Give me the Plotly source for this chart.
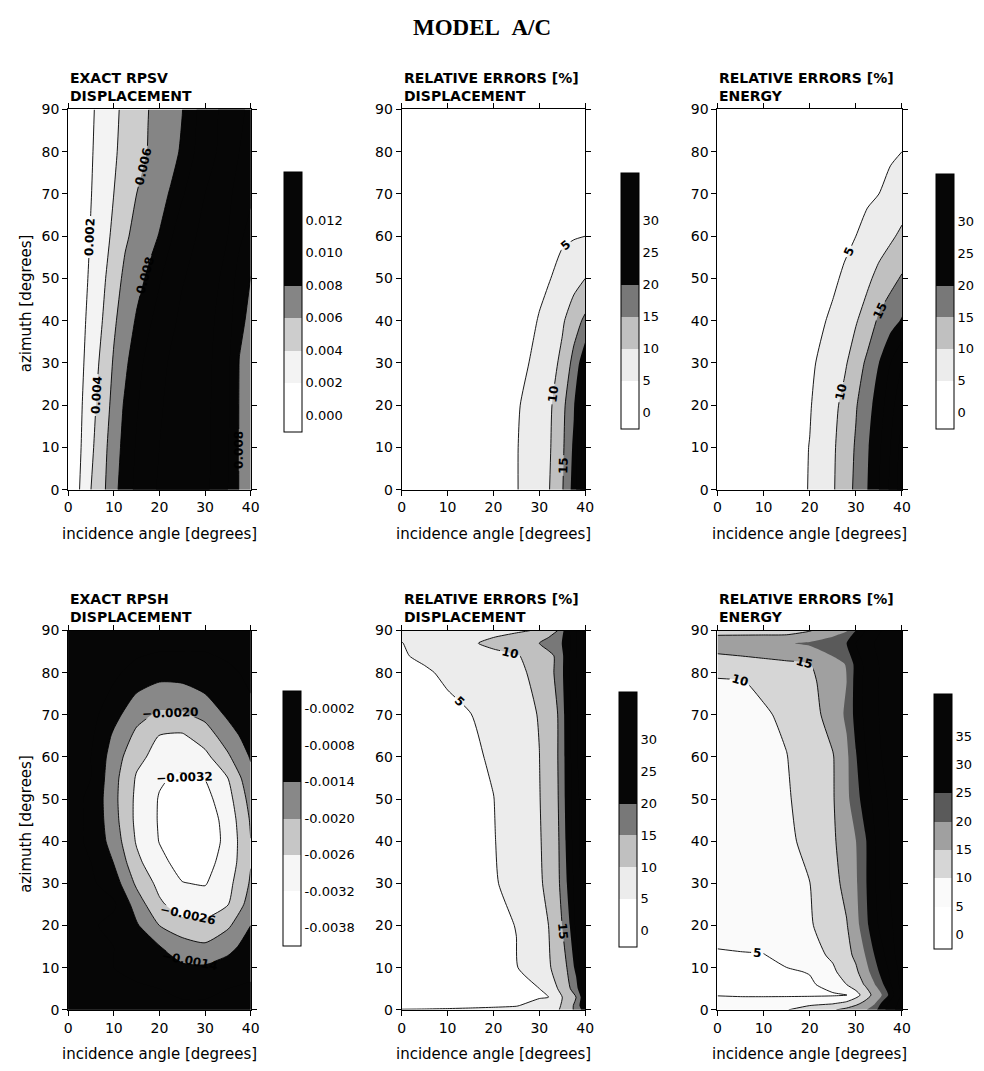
import plotly.graph_objects as go

# ---------------- DATA ----------------
# Panel 1: exact RPSV displacement (values x 1e-3)
sv_disp_x = [0, 2.5, 5, 7.5, 10, 12.5, 15, 17.5, 20, 22.5, 25, 30, 35, 37.5, 40]
sv_disp_y = [0, 10, 20, 30, 40, 50, 60, 70, 80, 90]
sv_disp_z_e3 = [
    [0.3, 2.0, 4.0, 5.5, 7.4, 9.0, 10.5, 11.5, 12.2, 12.6, 12.8, 12.5, 10.0, 7.9, 7.5],
    [0.3, 1.75, 3.6, 5.3, 7.0, 8.7, 10.2, 11.3, 12.0, 12.5, 12.8, 12.6, 10.2, 7.9, 7.5],
    [0.3, 1.6, 3.3, 4.9, 6.6, 8.3, 9.8, 11.0, 11.8, 12.4, 12.7, 12.6, 10.3, 7.9, 7.5],
    [0.3, 1.45, 2.9, 4.5, 6.2, 7.6, 9.2, 10.6, 11.5, 12.2, 12.6, 12.7, 10.4, 7.95, 7.6],
    [0.3, 1.3, 2.6, 4.0, 5.7, 7.0, 8.2, 9.6, 10.8, 11.7, 12.3, 12.7, 11.0, 8.3, 7.7],
    [0.3, 1.2, 2.3, 3.6, 5.0, 6.5, 7.4, 8.3, 9.8, 11.0, 11.9, 12.7, 11.6, 9.0, 7.95],
    [0.3, 1.1, 2.1, 3.2, 4.4, 5.7, 6.6, 7.3, 8.1, 9.8, 11.2, 12.5, 12.0, 10.5, 9.0],
    [0.3, 1.0, 1.95, 2.9, 4.0, 5.1, 6.0, 6.6, 7.3, 8.2, 9.8, 12.0, 12.3, 11.5, 10.5],
    [0.3, 0.95, 1.85, 2.7, 3.7, 4.7, 5.5, 6.05, 6.6, 7.3, 8.3, 11.5, 12.5, 12.0, 11.5],
    [0.3, 0.9, 1.75, 2.6, 3.55, 4.5, 5.35, 5.97, 6.5, 7.1, 7.95, 11.2, 12.6, 12.2, 11.8],
]

# Panel 2: relative errors [%], displacement (RPSV)
sv_err_disp_x = [0, 10, 20, 25, 30, 32.5, 35, 37.5, 40]
sv_err_disp_y = [0, 10, 20, 30, 40, 50, 60, 70, 80, 90]
sv_err_disp_z = [
    [0.5, 1.2, 2.8, 4.8, 7.5, 10.3, 14.6, 22, 36],
    [0.5, 1.2, 2.8, 4.8, 7.4, 10.0, 14.0, 21, 34],
    [0.5, 1.1, 2.6, 4.6, 7.0, 9.6, 13.5, 19.5, 32],
    [0.4, 1.0, 2.3, 3.8, 6.0, 8.2, 11.2, 16.5, 24],
    [0.3, 0.8, 1.9, 3.2, 5.2, 7.0, 9.3, 12.8, 16],
    [0.3, 0.7, 1.6, 2.7, 4.3, 5.0, 6.7, 8.2, 10.0],
    [0.2, 0.6, 1.3, 2.2, 3.3, 3.8, 4.3, 4.7, 5.0],
    [0.2, 0.5, 1.1, 1.8, 2.6, 3.0, 3.4, 3.7, 4.0],
    [0.2, 0.4, 0.9, 1.5, 2.1, 2.4, 2.7, 3.0, 3.2],
    [0.2, 0.4, 0.8, 1.3, 1.8, 2.0, 2.2, 2.5, 2.7],
]

# Panel 3: relative errors [%], energy (RPSV)
sv_err_en_x = [0, 10, 15, 20, 25, 27.5, 30, 32.5, 35, 37.5, 40]
sv_err_en_y = [0, 10, 20, 30, 40, 50, 60, 70, 80, 90]
sv_err_en_z = [
    [0.5, 1.5, 3.0, 5.2, 9.5, 12.5, 16.0, 20.0, 25, 31, 38],
    [0.5, 1.5, 3.0, 5.1, 9.3, 12.2, 15.5, 19.5, 24, 30, 37],
    [0.4, 1.4, 2.8, 4.7, 8.6, 11.4, 14.6, 18.2, 22.5, 28, 34],
    [0.4, 1.2, 2.5, 4.2, 7.3, 9.2, 12.5, 16.0, 20.0, 25, 30],
    [0.3, 1.0, 2.1, 3.6, 5.6, 7.7, 9.6, 12.3, 15.8, 18.0, 20.5],
    [0.3, 0.9, 1.8, 3.0, 4.4, 5.5, 7.0, 9.0, 11.5, 13.5, 15.5],
    [0.2, 0.7, 1.5, 2.4, 3.5, 4.2, 5.0, 6.2, 7.6, 9.2, 11.0],
    [0.2, 0.6, 1.2, 1.9, 2.8, 3.3, 3.8, 4.4, 5.0, 6.0, 7.2],
    [0.2, 0.5, 1.0, 1.6, 2.3, 2.7, 3.1, 3.5, 4.0, 4.5, 5.0],
    [0.2, 0.4, 0.9, 1.4, 2.0, 2.3, 2.6, 3.0, 3.4, 3.8, 4.2],
]

# Panel 4: exact RPSH displacement (values x 1e-4)
sh_disp_x = [0, 5, 10, 15, 20, 25, 30, 35, 40]
sh_disp_y = [0, 5, 10, 15, 20, 25, 30, 35, 40, 45, 50, 55, 60, 65, 70, 75, 80, 85, 90]
sh_disp_z_e4 = [
    [-3, -4, -5, -6, -7, -7, -7, -6, -5],
    [-3, -4, -5, -7, -8, -9, -9, -8, -7],
    [-4, -6, -8, -10, -12, -13, -13, -12, -10],
    [-5, -6, -8, -11, -13.8, -17, -19, -15.5, -12],
    [-5, -7, -10, -13.3, -20, -24, -24.5, -21, -14],
    [-5, -6, -7, -16.7, -25, -29, -28.8, -26.2, -17.3],
    [-5, -7, -11, -21.1, -27.7, -31.8, -32.4, -27.9, -19.3],
    [-6, -8, -14.2, -24.5, -30.5, -34, -34, -29.6, -20.3],
    [-6, -9, -16.6, -26.6, -32.2, -36, -35.5, -30.3, -20.1],
    [-6, -9, -17.9, -27.4, -32.5, -36, -35.5, -29.7, -19.4],
    [-6, -9, -18.4, -27.3, -32.4, -35, -34, -28.2, -17.9],
    [-5, -8, -18.1, -26.6, -31.3, -33, -31.8, -26, -15.7],
    [-5, -8, -16.9, -24.5, -28, -29, -27.7, -20.9, -13.5],
    [-4, -7, -15, -21.4, -26.2, -26.8, -23, -17, -11],
    [-4, -6, -12, -18.1, -21, -20.8, -18.4, -13, -9],
    [-3, -5, -9, -14.2, -16.5, -16, -14, -11, -8],
    [-3, -4, -7, -10, -12, -12, -11, -9, -7],
    [-3, -4, -5, -7, -8, -8, -8, -7, -6],
    [-3, -3, -4, -5, -6, -6, -6, -5, -5],
]

# Panel 5: relative errors [%], displacement (RPSH)
sh_err_disp_x = [0, 5, 10, 15, 20, 25, 30, 32, 34, 36, 38, 40]
sh_err_disp_y = [0, 1, 3, 5, 10, 20, 30, 40, 50, 60, 70, 80, 84, 87, 90]
sh_err_disp_z = [
    [5.4, 5.5, 5.7, 5.9, 6.2, 6.6, 7.5, 8.3, 9.5, 12.4, 16.2, 23],
    [2.5, 2.9, 3.3, 3.8, 4.2, 4.7, 7.0, 8.1, 9.3, 11.5, 16.5, 26],
    [1.6, 2.1, 2.6, 3.1, 3.6, 4.1, 4.6, 5.0, 8.3, 11.7, 15.0, 25],
    [1.5, 2.1, 2.65, 3.2, 3.8, 4.4, 4.97, 7.3, 10.0, 13.1, 18.1, 28],
    [1.4, 2.1, 2.75, 3.4, 4.1, 4.8, 7.7, 9.35, 11.9, 15.0, 21.3, 30],
    [1.4, 2.1, 2.85, 3.6, 4.3, 5.07, 8.6, 10.0, 12.9, 17.2, 26, 33],
    [1.4, 2.2, 3.0, 3.8, 4.6, 6.4, 9.35, 11.2, 13.8, 20.0, 27, 33],
    [1.5, 2.3, 3.1, 4.0, 4.8, 6.9, 9.6, 11.6, 14.1, 21.0, 28, 34],
    [1.5, 2.4, 3.2, 4.1, 4.93, 7.3, 9.8, 12.05, 14.6, 21.6, 28, 34],
    [1.6, 2.5, 3.4, 4.3, 5.5, 7.7, 9.95, 12.4, 14.9, 21.8, 29, 35],
    [1.8, 2.8, 3.85, 4.9, 6.55, 8.3, 10.2, 12.6, 15.0, 22.1, 29, 35],
    [2.5, 4.4, 5.8, 6.9, 8.0, 9.1, 11.1, 13.3, 16.2, 22.8, 30, 36],
    [4.6, 5.8, 6.7, 7.7, 8.65, 9.6, 12.2, 13.7, 15.9, 22.8, 30, 36],
    [4.9, 6.4, 7.9, 9.4, 11.15, 13.1, 15.0, 16.9, 18.8, 21.5, 30, 36],
    [5.8, 6.5, 7.2, 7.9, 8.6, 9.3, 10.45, 12.7, 15.0, 22.8, 30, 36],
]

# Panel 6: relative errors [%], energy (RPSH)
sh_err_en_x = [0, 5, 10, 15, 20, 25, 28, 30, 32, 34, 36, 38, 40]
sh_err_en_y = [0, 1.5, 3.5, 6, 9, 13, 20, 30, 40, 50, 60, 70, 78, 82, 87, 89, 90]
sh_err_en_z = [
    [7.0, 7.9, 8.9, 9.8, 12.0, 14.5, 16.4, 17.9, 19.3, 23.3, 29, 34, 38],
    [6.0, 6.75, 7.5, 8.2, 9.0, 9.7, 11.4, 13.8, 16.4, 19.3, 27.5, 33, 37],
    [4.9, 4.6, 4.4, 4.3, 4.3, 4.5, 4.9, 8.0, 12.3, 16.5, 20.8, 29, 36],
    [3.8, 3.6, 3.7, 4.0, 4.4, 6.6, 10.0, 12.6, 15.4, 19.6, 25.0, 31, 37],
    [4.0, 3.8, 4.0, 4.5, 5.2, 9.2, 12.0, 14.1, 17.7, 22.5, 27.5, 32, 37],
    [4.6, 4.7, 4.85, 6.4, 8.35, 10.75, 13.6, 16.0, 20.0, 25.0, 29.5, 34, 38],
    [6.5, 7.3, 8.05, 8.8, 9.6, 12.1, 14.7, 18.2, 23.1, 28.5, 32, 35, 38],
    [6.8, 7.6, 8.4, 9.2, 9.95, 13.5, 16.4, 19.3, 24.2, 29.5, 33, 36, 39],
    [7.0, 7.8, 8.6, 9.4, 10.8, 14.3, 17.4, 19.9, 24.3, 29.5, 33, 36, 39],
    [7.2, 8.0, 8.8, 9.6, 11.6, 14.6, 18.8, 22.95, 27.5, 31, 34, 36.5, 39],
    [7.5, 8.3, 9.1, 9.9, 12.2, 14.7, 18.9, 24.6, 29.5, 33, 35.5, 37.5, 39.5],
    [8.3, 8.9, 9.55, 10.7, 13.2, 16.9, 20.9, 26.8, 31, 34, 36, 38, 40],
    [9.6, 9.8, 10.8, 12.45, 14.1, 17.1, 20.0, 27, 31, 34, 36, 38, 40],
    [12.0, 12.7, 13.4, 14.1, 14.8, 17.9, 20.3, 26.7, 31, 34, 36, 38, 40],
    [18.0, 18.5, 19.1, 19.6, 20.7, 23.4, 25.0, 30, 33, 35, 37, 38.5, 40],
    [14.8, 14.85, 14.9, 15.0, 16.0, 18.9, 22.0, 27, 31, 34, 36, 38, 40],
    [13.0, 13.2, 13.5, 14.0, 14.8, 17.0, 19.5, 25, 30, 33, 35.5, 37.5, 39.5],
]

x_ticks = [0, 10, 20, 30, 40]
y_ticks = [0, 10, 20, 30, 40, 50, 60, 70, 80, 90]
cb_ticks_sv = [0.000, 0.002, 0.004, 0.006, 0.008, 0.010, 0.012]
cb_ticks_sh = [-0.0002, -0.0008, -0.0014, -0.0020, -0.0026, -0.0032, -0.0038]
cb_ticks_err = [0, 5, 10, 15, 20, 25, 30]
cb_ticks_err6 = [0, 5, 10, 15, 20, 25, 30, 35]

# ---------------- STYLE ----------------
W, H = 984, 1071
FONT = "DejaVu Sans"
WHITE, K = "#ffffff", "#060606"
SMOOTH = 0.6


def px_x(p):
    return p / W


def px_y(p):
    return 1 - p / H


def band_scale(colors):
    # colors: [below first level, band 0, band 1, ..., above last level]
    n = len(colors) - 1
    sc = []
    for k, c in enumerate(colors):
        lo = max(0.0, (k - 0.5) / n)
        hi = min(1.0, (k + 0.5) / n)
        sc.append([lo, c])
        sc.append([hi, c])
    return sc


col_px = [(65, 250), (403, 589), (723, 910)]
row_px = [(103, 489), (632, 1017)]
cbar_px = [  # (left x, top y, bottom y)
    (284, 166, 430), (625, 167, 427), (944, 168, 427),
    (283, 693, 952), (623, 694, 953), (942, 696, 955),
]

sv_disp_z = [[v * 1e-3 for v in row] for row in sv_disp_z_e3]
sh_disp_z = [[v * 1e-4 for v in row] for row in sh_disp_z_e4]

ERR_COLORS = [WHITE, WHITE, "#ececec", "#c0c0c0", "#787878", K, K, K, K]

panels = [
    dict(x=sv_disp_x, y=sv_disp_y, z=sv_disp_z, start=0.0, end=0.014, size=0.002,
         colors=[WHITE, WHITE, "#f3f3f3", "#cdcdcd", "#858585", K, K, K, K],
         lstart=0.002, lend=0.008, lfmt=".3f",
         cbt=cb_ticks_sv, cbtxt=["%.3f" % v for v in cb_ticks_sv]),
    dict(x=sv_err_disp_x, y=sv_err_disp_y, z=sv_err_disp_z, start=0, end=35, size=5,
         colors=ERR_COLORS, lstart=5, lend=15, lfmt=".0f",
         cbt=cb_ticks_err, cbtxt=[str(v) for v in cb_ticks_err]),
    dict(x=sv_err_en_x, y=sv_err_en_y, z=sv_err_en_z, start=0, end=35, size=5,
         colors=ERR_COLORS, lstart=5, lend=15, lfmt=".0f",
         cbt=cb_ticks_err, cbtxt=[str(v) for v in cb_ticks_err]),
    dict(x=sh_disp_x, y=sh_disp_y, z=sh_disp_z, start=-0.0038, end=-0.0002, size=0.0006,
         colors=[WHITE, WHITE, "#f6f6f6", "#c6c6c6", "#888888", K, K, K],
         lstart=-0.0032, lend=-0.0014, lfmt=".4f",
         cbt=cb_ticks_sh, cbtxt=["-%.4f" % abs(v) for v in cb_ticks_sh]),
    dict(x=sh_err_disp_x, y=sh_err_disp_y, z=sh_err_disp_z, start=0, end=35, size=5,
         colors=ERR_COLORS, lstart=5, lend=15, lfmt=".0f",
         cbt=cb_ticks_err, cbtxt=[str(v) for v in cb_ticks_err]),
    dict(x=sh_err_en_x, y=sh_err_en_y, z=sh_err_en_z, start=0, end=40, size=5,
         colors=[WHITE, WHITE, "#fafafa", "#d6d6d6", "#a0a0a0", "#5a5a5a", K, K, K, K],
         lstart=5, lend=15, lfmt=".0f",
         cbt=cb_ticks_err6, cbtxt=[str(v) for v in cb_ticks_err6]),
]

titles = [
    "EXACT RPSV<br>DISPLACEMENT", "RELATIVE ERRORS [%]<br>DISPLACEMENT",
    "RELATIVE ERRORS [%]<br>ENERGY", "EXACT RPSH<br>DISPLACEMENT",
    "RELATIVE ERRORS [%]<br>DISPLACEMENT", "RELATIVE ERRORS [%]<br>ENERGY",
]

fig = go.Figure()
layout = dict(
    width=W, height=H, margin=dict(l=0, r=0, t=0, b=0),
    paper_bgcolor="white", plot_bgcolor="white", showlegend=False,
    font=dict(family=FONT, color="black"),
)
annotations = []

for i, p in enumerate(panels):
    r, c = divmod(i, 3)
    n = i + 1
    xa = "x" if n == 1 else "x%d" % n
    ya = "y" if n == 1 else "y%d" % n
    x0, x1 = col_px[c]
    y0, y1 = row_px[r]
    cbx, cbt, cbb = cbar_px[i]
    fig.add_trace(go.Contour(
        x=p["x"], y=p["y"], z=p["z"], xaxis=xa, yaxis=ya,
        autocontour=False,
        contours=dict(start=p["start"], end=p["end"], size=p["size"],
                      coloring="fill", showlines=False),
        colorscale=band_scale(p["colors"]),
        line=dict(width=0, smoothing=SMOOTH),
        hoverinfo="skip",
        colorbar=dict(x=px_x(cbx), xanchor="left", y=px_y((cbt + cbb) / 2),
                      yanchor="middle", len=(cbb - cbt) / H, lenmode="fraction",
                      thickness=18, thicknessmode="pixels", outlinewidth=1,
                      outlinecolor="black", ticks="", xpad=0, ypad=0,
                      tickvals=p["cbt"], ticktext=p["cbtxt"],
                      tickfont=dict(family=FONT, size=13, color="black")),
    ))
    fig.add_trace(go.Contour(
        x=p["x"], y=p["y"], z=p["z"], xaxis=xa, yaxis=ya,
        autocontour=False, showscale=False,
        contours=dict(start=p["lstart"], end=p["lend"], size=p["size"],
                      coloring="none", showlines=True, showlabels=True,
                      labelformat=p["lfmt"],
                      labelfont=dict(family=FONT, size=12, color="black", weight="bold")),
        line=dict(width=0.9, color="black", smoothing=SMOOTH),
        hoverinfo="skip",
    ))
    axc = dict(showline=True, linecolor="black", linewidth=1, mirror="ticks",
               ticks="outside", ticklen=5, tickwidth=1, tickcolor="black",
               tickfont=dict(family=FONT, size=14, color="black"),
               showgrid=False, zeroline=False)
    layout["xaxis" if n == 1 else "xaxis%d" % n] = dict(
        axc, domain=[px_x(x0), px_x(x1)], range=[0, 40], tickvals=x_ticks,
        anchor=ya)
    layout["yaxis" if n == 1 else "yaxis%d" % n] = dict(
        axc, domain=[px_y(y1), px_y(y0)], range=[0, 90], tickvals=y_ticks,
        anchor=xa)
    annotations.append(dict(
        text="<b>%s</b>" % titles[i], x=px_x(x0), y=px_y(y0 - 4), xref="paper",
        yref="paper", xanchor="left", yanchor="bottom", align="left",
        showarrow=False, font=dict(family=FONT, size=14, color="black")))
    annotations.append(dict(
        text="incidence angle [degrees]", x=px_x((x0 + x1) / 2), y=px_y(y1 + 45),
        xref="paper", yref="paper", xanchor="center", yanchor="middle",
        showarrow=False, font=dict(family=FONT, size=15, color="black")))
    if c == 0:
        annotations.append(dict(
            text="azimuth [degrees]", x=px_x(22), y=px_y((y0 + y1) / 2 + 4),
            xref="paper", yref="paper", xanchor="center", yanchor="middle",
            textangle=-90, showarrow=False,
            font=dict(family=FONT, size=15, color="black")))

annotations.append(dict(
    text="<b>MODEL\u00a0\u00a0A/C</b>", x=px_x(484), y=px_y(20), xref="paper",
    yref="paper", xanchor="center", yanchor="middle", showarrow=False,
    font=dict(family="Liberation Serif", size=23, color="black")))

layout["annotations"] = annotations
fig.update_layout(**layout)
fig.write_html(
    "out.html",
    config={"displayModeBar": False},
    post_script="document.body.style.margin='0';document.body.style.padding='0';",
)
